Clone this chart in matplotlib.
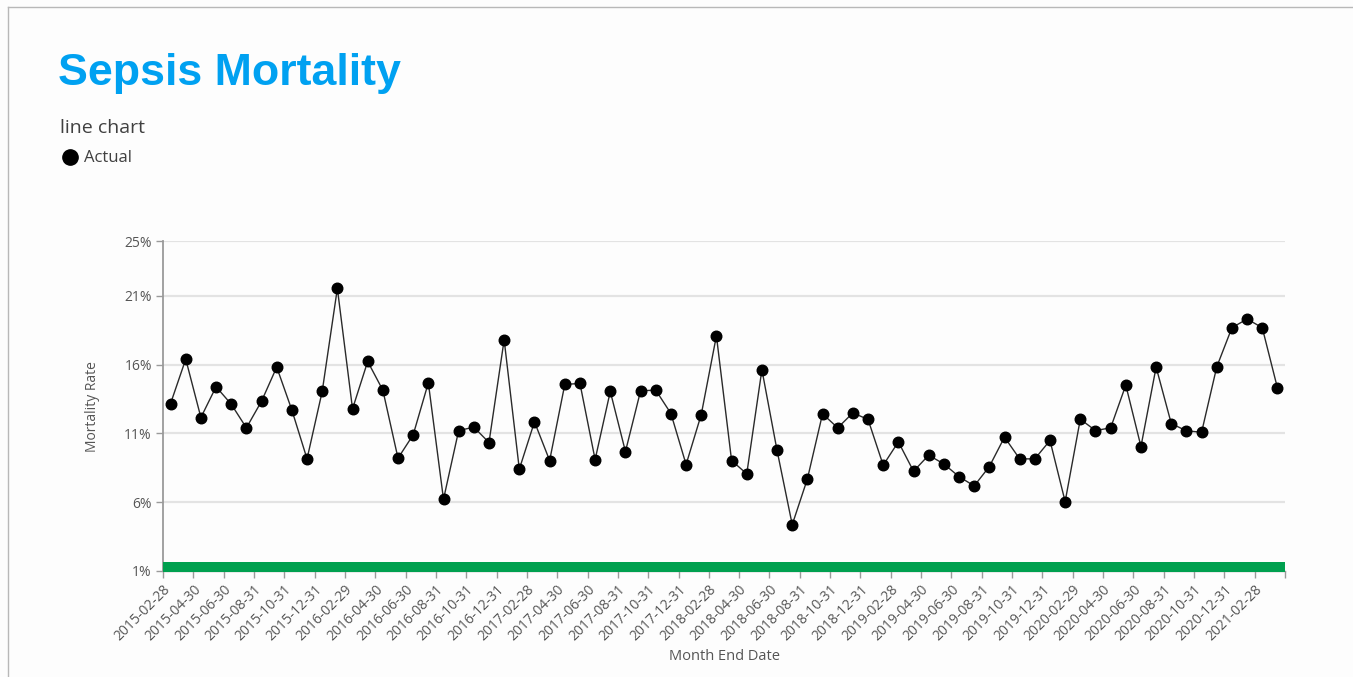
import matplotlib
matplotlib.use("Agg")
import matplotlib.pyplot as plt
from matplotlib.lines import Line2D
import numpy as np

# ---- data ----
mortality_rate = [
    13.17, 16.40, 12.15, 14.39, 13.12, 11.40, 13.34, 15.82, 12.69, 9.14,
    14.05, 21.55, 12.78, 16.23, 14.14, 9.19, 10.89, 14.68, 6.20, 11.20,
    11.45, 10.33, 17.81, 8.39, 11.84, 9.02, 14.56, 14.63, 9.09, 14.05,
    9.67, 14.10, 14.14, 12.44, 8.73, 12.37, 18.10, 9.02, 8.05, 15.63,
    9.75, 4.35, 7.68, 12.42, 11.40, 12.49, 12.01, 8.68, 10.38, 8.24,
    9.41, 8.77, 7.85, 7.17, 8.58, 10.72, 9.14, 9.14, 10.48, 6.03,
    12.03, 11.20, 11.40, 14.51, 10.04, 15.82, 11.71, 11.18, 11.08, 15.84,
    18.69, 19.32, 18.69, 14.31,
]

x_tick_labels = [
    "2015-02-28", "2015-04-30", "2015-06-30", "2015-08-31", "2015-10-31", "2015-12-31",
    "2016-02-29", "2016-04-30", "2016-06-30", "2016-08-31", "2016-10-31", "2016-12-31",
    "2017-02-28", "2017-04-30", "2017-06-30", "2017-08-31", "2017-10-31", "2017-12-31",
    "2018-02-28", "2018-04-30", "2018-06-30", "2018-08-31", "2018-10-31", "2018-12-31",
    "2019-02-28", "2019-04-30", "2019-06-30", "2019-08-31", "2019-10-31", "2019-12-31",
    "2020-02-29", "2020-04-30", "2020-06-30", "2020-08-31", "2020-10-31", "2020-12-31",
    "2021-02-28",
]

y_ticks = [1, 6, 11, 16, 21, 25]

target_band = (0.93, 1.66)

# ---- styling ----
plt.rcParams["font.family"] = ["Open Sans", "DejaVu Sans"]
W, H = 1353, 677
fig = plt.figure(figsize=(W / 100, H / 100), dpi=100)
fig.patch.set_facecolor("#fdfdfd")

ax = fig.add_axes([163 / W, 1 - 570.7 / H, (1285 - 163) / W, (570.7 - 241) / H])
ax.set_facecolor("none")

n = len(mortality_rate)
x = np.arange(n) + 0.5
ax.plot(x, mortality_rate, color="#2a2a2a", lw=1.0, marker="o", ms=7.6,
        mfc="black", mec="black", zorder=4, clip_on=False)

ax.set_xlim(0, n)
ax.set_ylim(1, 25)

ax.axhspan(target_band[0], target_band[1], color="#00a04f", zorder=3,
           clip_on=False, lw=0)

ax.set_yticks(y_ticks)
ax.set_yticklabels([f"{v}%" for v in y_ticks])
ax.grid(axis="y", color="#e3e3e3", lw=1.6)
ax.set_axisbelow(True)

ax.set_xticks(np.arange(0, 2 * len(x_tick_labels), 2))
ax.set_xticklabels(x_tick_labels, rotation=45, ha="right", va="top",
                   rotation_mode="anchor")
ax.set_xticks([n], minor=True)

for s in ["top", "right"]:
    ax.spines[s].set_visible(False)
ax.spines["left"].set_color("#9a9a9a")
ax.spines["left"].set_linewidth(1.3)
ax.spines["bottom"].set_color("#9a9a9a")
ax.spines["bottom"].set_linewidth(1.0)

ax.tick_params(axis="both", which="both", length=5, color="#9a9a9a",
               labelcolor="#555555", labelsize=10, width=1.0)
ax.tick_params(axis="x", pad=3)
ax.tick_params(axis="y", pad=3)

# axis titles
fig.text(93 / W, 1 - 407 / H, "Mortality Rate", rotation=90, ha="center",
         va="center", fontsize=10, color="#555555")
fig.text(724 / W, 1 - 657 / H, "Month End Date", ha="center", va="center",
         fontsize=10.5, color="#555555")

# title & subtitle
fig.text(58 / W, 1 - 85 / H, "Sepsis Mortality", fontsize=32.2,
         fontweight="bold", family=["Liberation Sans", "DejaVu Sans"],
         color="#00a1f1", ha="left", va="baseline")
fig.text(60 / W, 1 - 133 / H, "line chart", fontsize=14, color="#404040",
         ha="left", va="baseline")

# legend
fig.lines.append(Line2D([70 / W], [1 - 157 / H], marker="o", ms=11,
                        color="black", transform=fig.transFigure))
fig.text(84 / W, 1 - 162 / H, "Actual", fontsize=12, color="#404040",
         ha="left", va="baseline")

# card border
fig.lines.append(Line2D([8 / W, 1], [1 - 7 / H, 1 - 7 / H], color="#b8b8b8",
                        lw=1.0, transform=fig.transFigure))
fig.lines.append(Line2D([8 / W, 8 / W], [0, 1 - 7 / H], color="#b8b8b8",
                        lw=1.0, transform=fig.transFigure))

fig.savefig("out.png", dpi=100, facecolor=fig.get_facecolor())
